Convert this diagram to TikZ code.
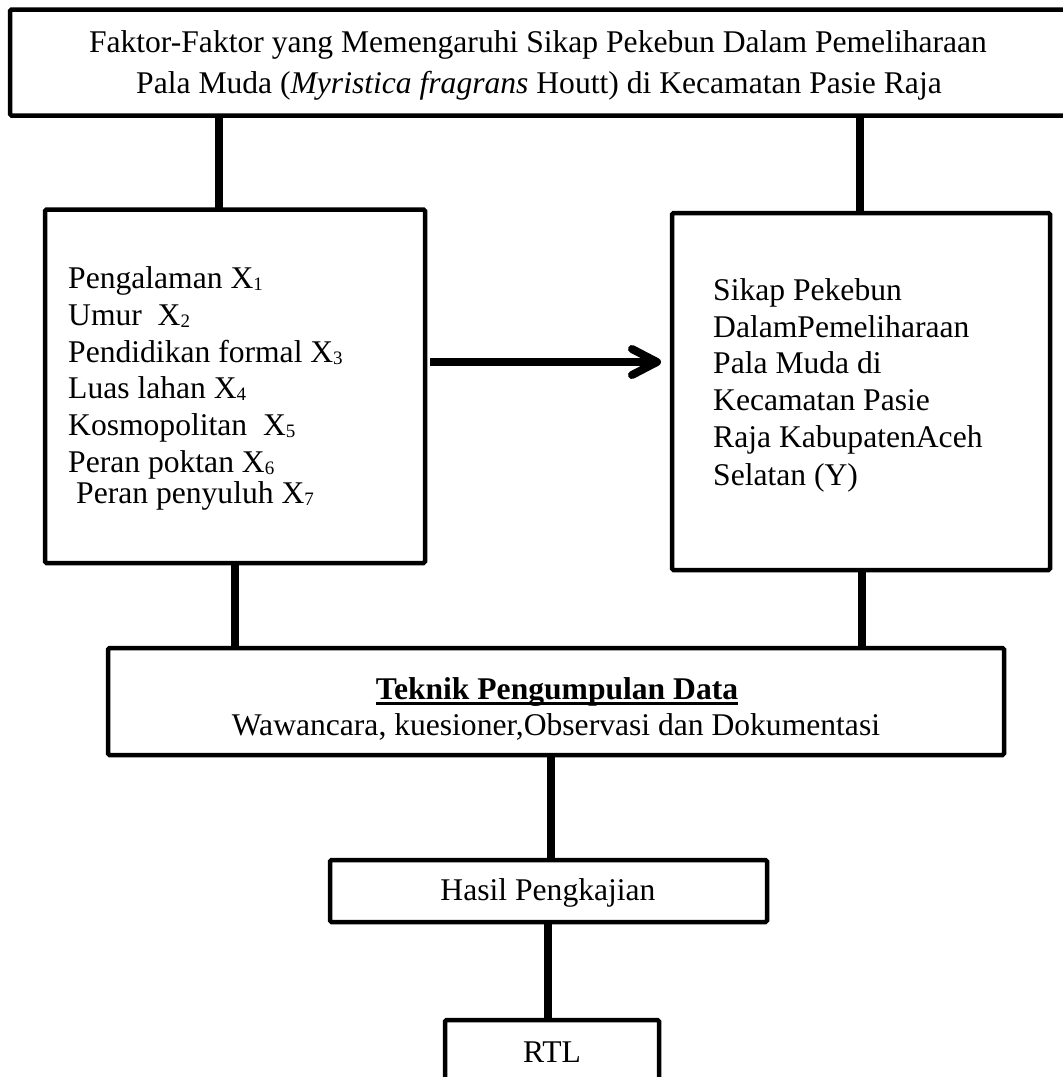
\documentclass[tikz,border=0pt]{standalone}
\usepackage{fontspec}
\setmainfont{Liberation Serif}
\usetikzlibrary{calc}
\newcommand\sbs[1]{\raisebox{-2.5pt}{\fontsize{19}{19}\selectfont #1}}
\begin{document}
\begin{tikzpicture}[x=1pt,y=-1pt,
  box/.style={draw, line width=4.5pt, outer sep=0pt, inner sep=0pt, rounded corners=1.5pt, anchor=north west},
  txt/.style={inner sep=0pt, font=\fontsize{31.6}{38}\selectfont},
  link/.style={line width=7.5pt},
  arrowline/.style={line width=8pt, line cap=round, line join=round}]
\useasboundingbox (0,0) rectangle (1063,1077);

% boxes
\node[box, minimum width=1058pt, minimum height=106pt] (top) at (10,9.5) {};
\node[box, minimum width=380pt, minimum height=353.5pt] (left) at (45,209.5) {};
\node[box, minimum width=378pt, minimum height=357pt] (right) at (672,213) {};
\node[box, minimum width=896pt, minimum height=107pt] (mid) at (108,648) {};
\node[box, minimum width=437pt, minimum height=62pt] (hasil) at (330,860) {};
\node[box, minimum width=214pt, minimum height=80pt] (rtl) at (445,1020) {};

% connector columns
\coordinate (cA) at (219,0);
\coordinate (cB) at (860,0);
\coordinate (cC) at (235,0);
\coordinate (cD) at (862,0);
\coordinate (cE) at (551,0);
\coordinate (cF) at (548,0);
\draw[link] (top.south -| cA) -- (left.north -| cA);
\draw[link] (top.south -| cB) -- (right.north -| cB);
\draw[link] (left.south -| cC) -- (mid.north -| cC);
\draw[link] (right.south -| cD) -- (mid.north -| cD);
\draw[link] (mid.south -| cE) -- (hasil.north -| cE);
\draw[link] (hasil.south -| cF) -- (rtl.north -| cF);

% arrow
\coordinate (ay) at (0,362);
\path (right.west |- ay) ++(-15,0) coordinate (tip);
\draw[line width=8pt] (left.east |- ay) ++(5,0) -- ($(tip)+(-3,0)$);
\draw[arrowline] ($(tip)+(-25,-13)$) -- (tip) -- ($(tip)+(-25,13)$);

% top texts
\node[txt, anchor=base] (t1) at (538,52) {Faktor-Faktor yang Memengaruhi Sikap Pekebun Dalam Pemeliharaan};
\node[txt, anchor=base] (t2) at (539,93) {Pala Muda (\textit{Myristica fragrans} Houtt) di Kecamatan Pasie Raja};

% left texts
\node[txt, anchor=base west] (l1) at (68,288) {Pengalaman X\sbs{1}};
\node[txt, anchor=base west] (l2) at (68,325) {Umur\ \ X\sbs{2}};
\node[txt, anchor=base west] (l3) at (68,362) {Pendidikan formal X\sbs{3}};
\node[txt, anchor=base west] (l4) at (68,398) {Luas lahan X\sbs{4}};
\node[txt, anchor=base west] (l5) at (68,435) {Kosmopolitan\ \ X\sbs{5}};
\node[txt, anchor=base west] (l6) at (68,472) {Peran poktan X\sbs{6}};
\node[txt, anchor=base west] (l7) at (76,503) {Peran penyuluh X\sbs{7}};

% right texts
\node[txt, anchor=base west] (r1) at (713,300) {Sikap Pekebun};
\node[txt, anchor=base west] (r2) at (713,337) {DalamPemeliharaan};
\node[txt, anchor=base west] (r3) at (713,373) {Pala Muda di};
\node[txt, anchor=base west] (r4) at (713,410) {Kecamatan Pasie};
\node[txt, anchor=base west] (r5) at (713,447) {Raja KabupatenAceh};
\node[txt, anchor=base west] (r6) at (713,485) {Selatan (Y)};

% middle texts
\node[txt, anchor=base] (tk) at (557,699) {\textbf{Teknik Pengumpulan Data}};
\draw[line width=2.5pt] ([yshift=-4.5pt]tk.base west) -- ([yshift=-4.5pt]tk.base east);
\node[txt, anchor=base] (wc) at (556,735) {Wawancara, kuesioner,Observasi dan Dokumentasi};

\node[txt, anchor=base] (hp) at (548,900) {Hasil Pengkajian};
\node[txt, anchor=base] (rt) at (552,1062) {RTL};
\end{tikzpicture}
\end{document}
